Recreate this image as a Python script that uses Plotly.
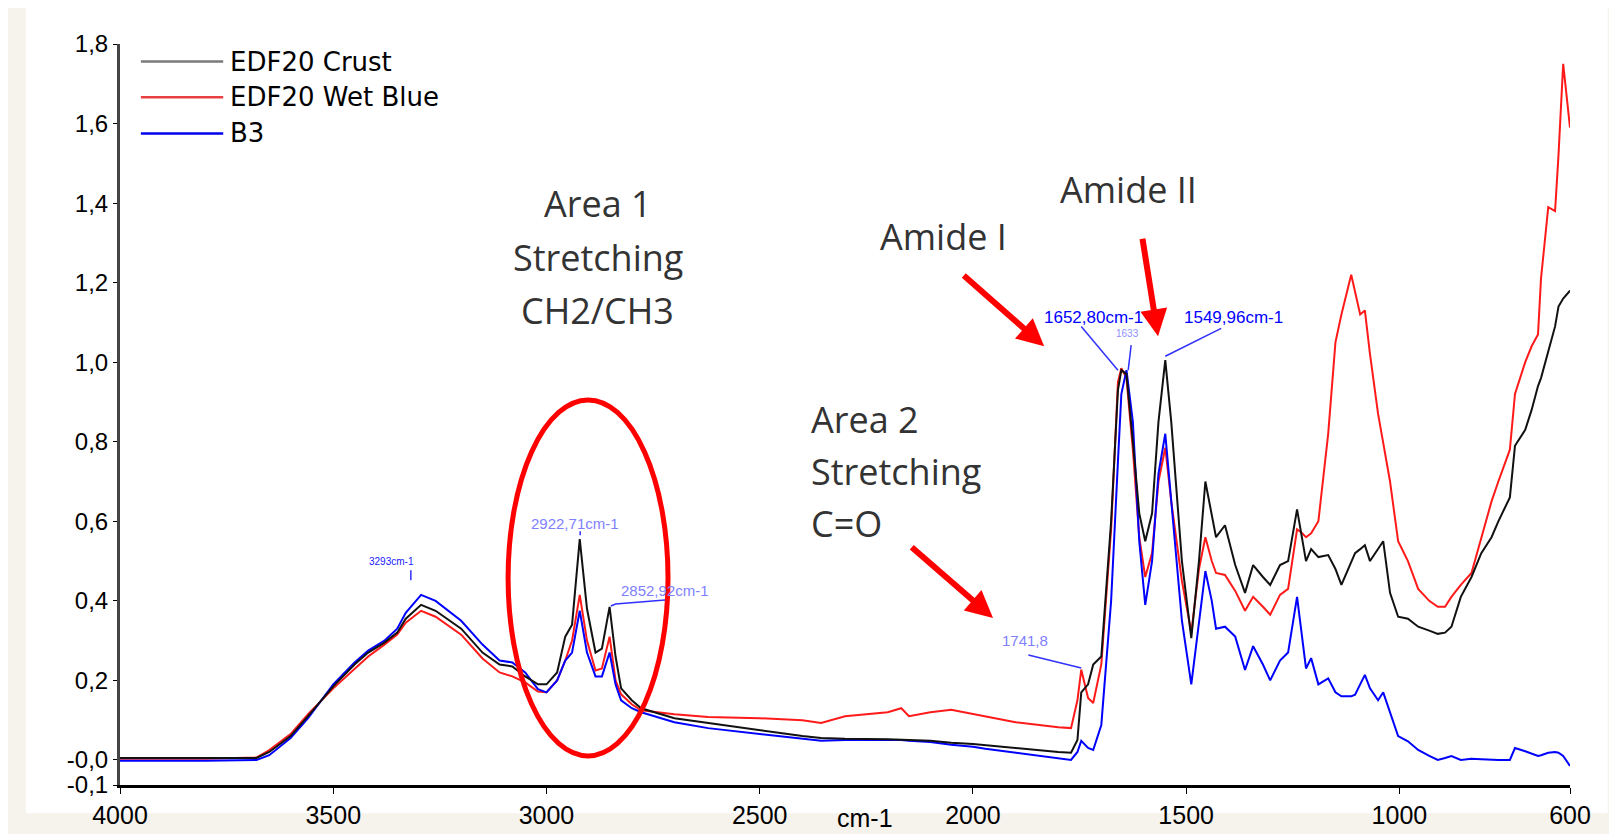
import plotly.graph_objects as go

# ---- data (wavenumber cm-1, absorbance) ----
wavenumber = [4000, 3800, 3680, 3650, 3600, 3559, 3500, 3450, 3418, 3380, 3350, 3330, 3294, 3260, 3200,
              3150, 3110, 3080, 3050, 3020, 3000, 2975, 2956, 2940, 2922, 2905, 2885, 2870, 2852, 2838,
              2825, 2800, 2778, 2700, 2621, 2500, 2400, 2356, 2300, 2200, 2168, 2150, 2100, 2051, 2000,
              1971, 1900, 1800, 1770, 1755, 1746, 1730, 1718, 1699, 1676, 1660, 1652, 1640, 1625, 1610,
              1596, 1580, 1565, 1549, 1535, 1510, 1488, 1470, 1455, 1440, 1430, 1409, 1385, 1362, 1343,
              1320, 1303, 1280, 1261, 1240, 1228, 1219, 1207, 1190, 1167, 1150, 1136, 1113, 1104, 1092,
              1081, 1069, 1050, 1038, 1022, 1003, 980, 956, 930, 910, 893, 878, 856, 831, 808,
              784, 768, 741, 729, 705, 690, 675, 668, 651, 635, 627, 616, 600]

crust = [0.005, 0.005, 0.005, 0.02, 0.06, 0.11, 0.185, 0.24, 0.27, 0.295, 0.32, 0.355, 0.39, 0.375, 0.33,
         0.27, 0.24, 0.235, 0.21, 0.19, 0.19, 0.22, 0.31, 0.34, 0.555, 0.38, 0.27, 0.28, 0.385, 0.26,
         0.18, 0.15, 0.13, 0.105, 0.093, 0.075, 0.06, 0.055, 0.053, 0.052, 0.05, 0.05, 0.048, 0.043, 0.04,
         0.037, 0.03, 0.02, 0.018, 0.05, 0.17, 0.19, 0.24, 0.26, 0.6, 0.93, 0.98, 0.97, 0.8, 0.62,
         0.55, 0.62, 0.85, 1.005, 0.85, 0.5, 0.306, 0.5, 0.70, 0.62, 0.56, 0.59, 0.49, 0.42, 0.49,
         0.46, 0.44, 0.49, 0.5, 0.63, 0.55, 0.50, 0.53, 0.51, 0.515, 0.48, 0.44, 0.5, 0.52, 0.53,
         0.54, 0.50, 0.53, 0.55, 0.42, 0.36, 0.355, 0.335, 0.325, 0.317, 0.32, 0.335, 0.41, 0.46, 0.52,
         0.56, 0.6, 0.66, 0.79, 0.83, 0.88, 0.94, 0.96, 1.03, 1.09, 1.14, 1.16, 1.18]

wet_blue = [0.003, 0.003, 0.006, 0.025, 0.065, 0.115, 0.18, 0.23, 0.26, 0.29, 0.315, 0.345, 0.375, 0.36, 0.315,
            0.255, 0.22, 0.21, 0.195, 0.172, 0.17, 0.2, 0.25, 0.3, 0.415, 0.3, 0.225, 0.23, 0.31, 0.2,
            0.165, 0.14, 0.125, 0.115, 0.108, 0.105, 0.1, 0.093, 0.11, 0.12, 0.13, 0.11, 0.12, 0.126, 0.115,
            0.11, 0.095, 0.082, 0.08, 0.15, 0.227, 0.156, 0.143, 0.24, 0.58, 0.95, 0.985, 0.96, 0.78, 0.56,
            0.46, 0.52, 0.7, 0.785, 0.65, 0.45, 0.32, 0.48, 0.56, 0.5, 0.47, 0.465, 0.425, 0.375, 0.41,
            0.385, 0.365, 0.415, 0.43, 0.58, 0.57, 0.56, 0.57, 0.60, 0.82, 1.05, 1.12, 1.22, 1.18, 1.12,
            1.13, 1.02, 0.87, 0.80, 0.70, 0.55, 0.50, 0.43, 0.40, 0.385, 0.385, 0.41, 0.44, 0.47, 0.56,
            0.65, 0.70, 0.78, 0.92, 1.0, 1.04, 1.07, 1.21, 1.39, 1.38, 1.52, 1.75, 1.59]

b3 = [-0.002, -0.002, 0.0, 0.012, 0.055, 0.105, 0.19, 0.245, 0.275, 0.30, 0.33, 0.37, 0.415, 0.40, 0.35,
      0.29, 0.25, 0.245, 0.22, 0.178, 0.17, 0.2, 0.25, 0.27, 0.375, 0.27, 0.21, 0.21, 0.27, 0.19,
      0.15, 0.13, 0.12, 0.095, 0.08, 0.065, 0.052, 0.048, 0.05, 0.05, 0.05, 0.048, 0.045, 0.038, 0.033,
      0.028, 0.018, 0.005, 0.0, 0.02, 0.048, 0.03, 0.025, 0.088, 0.4, 0.75, 0.92, 0.98, 0.85, 0.55,
      0.39, 0.5, 0.72, 0.82, 0.65, 0.35, 0.19, 0.35, 0.475, 0.4, 0.33, 0.335, 0.31, 0.226, 0.286,
      0.24, 0.2, 0.25, 0.27, 0.41, 0.3, 0.23, 0.256, 0.19, 0.205, 0.17, 0.16, 0.16, 0.164, 0.19,
      0.214, 0.18, 0.15, 0.17, 0.12, 0.06, 0.047, 0.025, 0.01, 0.0, 0.005, 0.01, 0.0, 0.003, 0.002,
      0.0, 0.0, 0.0, 0.03, 0.022, 0.015, 0.01, 0.012, 0.018, 0.02, 0.018, 0.01, -0.015]

series_names = ["EDF20 Crust", "EDF20 Wet Blue", "B3"]
series_colors = ["#111111", "#ff1a1a", "#0000ff"]
legend_colors = ["#7a7a7a", "#e84040", "#0000ee"]

x_ticks = [4000, 3500, 3000, 2500, 2000, 1500, 1000, 600]
y_tick_vals = [-0.063, 0.0, 0.2, 0.4, 0.6, 0.8, 1.0, 1.2, 1.4, 1.6, 1.8]
y_tick_text = ["-0,1", "-0,0", "0,2", "0,4", "0,6", "0,8", "1,0", "1,2", "1,4", "1,6", "1,8"]

TICKFONT = "Liberation Sans Narrow, Arial Narrow, Liberation Sans, Arial"
LABFONT = "Open Sans, Noto Sans, DejaVu Sans"

fig = go.Figure()
order = [1, 2, 0]
values = [crust, wet_blue, b3]
for i in order:
    fig.add_trace(go.Scatter(x=wavenumber, y=values[i], mode="lines", name=series_names[i],
                             line=dict(color=series_colors[i], width=2), showlegend=False,
                             hoverinfo="skip"))

shapes = []
annotations = []

# background card
shapes.append(dict(type="rect", xref="paper", yref="paper", x0=-0.065, x1=1.026, y0=-0.038, y1=1.06,
                   fillcolor="white", line=dict(width=0), layer="below"))

# manual legend
leg_y = [1.756, 1.666, 1.575]
for name, col, yy in zip(series_names, legend_colors, leg_y):
    shapes.append(dict(type="line", xref="x", yref="y", x0=3951, x1=3758, y0=yy, y1=yy,
                       line=dict(color=col, width=2.5)))
    annotations.append(dict(x=3746, y=yy, xref="x", yref="y", text=name, showarrow=False,
                            xanchor="left", yanchor="middle",
                            font=dict(family="DejaVu Sans", size=26, color="#000")))

# red ellipse
shapes.append(dict(type="circle", xref="x", yref="y", x0=3090, x1=2715, y0=0.01, y1=0.905,
                   line=dict(color="#ff0000", width=5)))

# big labels
def big(text, x, y, anchor="center"):
    annotations.append(dict(x=x, y=y, xref="x", yref="y", text=text, showarrow=False,
                            xanchor=anchor, yanchor="middle",
                            font=dict(family=LABFONT, size=36, color="#333333")))

big("Area 1", 2880, 1.40)
big("Stretching", 2880, 1.262)
big("CH2/CH3", 2880, 1.129)
big("Amide I", 2070, 1.315)
big("Amide II", 1635, 1.435)
big("Area 2", 2385, 0.856, "left")
big("Stretching", 2385, 0.726, "left")
big("C=O", 2385, 0.595, "left")

# red arrows
for (tx, ty, hx, hy) in [(2025, 1.221, 1833, 1.040), (1603, 1.314, 1566, 1.065), (2147, 0.538, 1953, 0.357)]:
    annotations.append(dict(x=hx, y=hy, ax=tx, ay=ty, xref="x", yref="y", axref="x", ayref="y",
                            text="", showarrow=True, arrowhead=2, arrowsize=0.9, arrowwidth=6,
                            arrowcolor="#ff0000"))

# peak labels
def peak(text, x, y, color, size):
    annotations.append(dict(x=x, y=y, xref="x", yref="y", text=text, showarrow=False,
                            xanchor="center", yanchor="middle",
                            font=dict(family=TICKFONT, size=size, color=color)))

peak("2922,71cm-1", 2933, 0.595, "#8080ff", 15)
peak("2852,92cm-1", 2722, 0.427, "#8080ff", 15)
peak("3293cm-1", 3364, 0.50, "#2020ff", 10)
peak("1741,8", 1878, 0.30, "#8080ff", 15)
peak("1652,80cm-1", 1718, 1.113, "#0000ff", 17)
peak("1633", 1638, 1.073, "#9090ff", 10)
peak("1549,96cm-1", 1390, 1.113, "#0000ff", 17)

# leader lines
leaders = [
    [(2849, 0.387), (2838, 0.392), (2722, 0.402)],
    [(3318, 0.477), (3318, 0.452)],
    [(2921, 0.575), (2921, 0.565)],
    [(1870, 0.264), (1746, 0.231)],
    [(1746, 1.09), (1660, 0.98)],
    [(1629, 1.043), (1636, 0.98)],
    [(1549, 1.015), (1418, 1.085)],
]
for pts in leaders:
    path = "M " + " L ".join(f"{px},{py}" for px, py in pts)
    shapes.append(dict(type="path", xref="x", yref="y", path=path,
                       line=dict(color="#3030ff", width=1.5)))

# x axis title
annotations.append(dict(x=0.514, y=-0.045, xref="paper", yref="paper", text="cm-1", showarrow=False,
                        xanchor="center", yanchor="middle",
                        font=dict(family=TICKFONT, size=25, color="#000")))

fig.update_layout(
    width=1617, height=834,
    margin=dict(l=112, r=55, t=36, b=57),
    paper_bgcolor="#f6f2ec", plot_bgcolor="white",
    shapes=shapes, annotations=annotations,
    showlegend=False,
    xaxis=dict(range=[4000, 600], tickvals=x_ticks, ticktext=[str(v) for v in x_ticks],
               showgrid=False, zeroline=False, showline=True, linecolor="#000", linewidth=3,
               ticks="outside", ticklen=6, tickwidth=1, tickcolor="#000",
               tickfont=dict(family=TICKFONT, size=25, color="#000")),
    yaxis=dict(range=[-0.063, 1.8], tickvals=y_tick_vals, ticktext=y_tick_text,
               showgrid=False, zeroline=False, showline=True, linecolor="#444", linewidth=3,
               ticks="outside", ticklen=4, tickwidth=1, tickcolor="#000",
               tickfont=dict(family=TICKFONT, size=24, color="#000")),
)

fig.write_html("out.html", config={"displayModeBar": False})
